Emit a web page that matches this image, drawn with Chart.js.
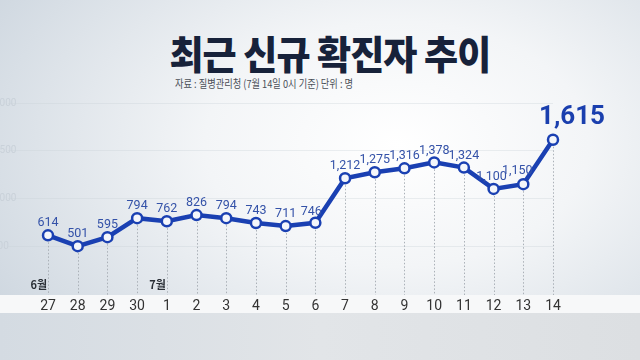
<!DOCTYPE html>
<html><head><meta charset="utf-8">
<script src="https://cdn.jsdelivr.net/npm/chart.js@4/dist/chart.umd.min.js"></script>
<style>
html,body{margin:0;padding:0;width:640px;height:360px;overflow:hidden;}
body{position:relative;background:radial-gradient(ellipse 75% 85% at 62% 40%, #ffffff 0%, #f3f5f7 40%, #dde3e9 75%, #cdd6df 100%);}
#band{position:absolute;left:0;top:295px;width:640px;height:18px;background:#f7f8f9;}
#bottom{position:absolute;left:0;top:313px;width:640px;height:47px;background:linear-gradient(90deg,#d4dbe2,#e2e5e8 50%,#dcdfe2);}
#title{position:absolute;left:0;width:640px;top:28px;text-align:center;font-family:"Noto Sans CJK KR";font-weight:900;font-size:39px;line-height:48px;color:#17223a;letter-spacing:-1px;}
#title span{display:inline-block;transform:translateX(10px) scaleX(0.95);}
#sub{position:absolute;left:175px;top:75px;font-family:"Noto Sans CJK KR";font-size:11px;line-height:16px;color:#4a4f57;transform-origin:0 0;transform:scaleX(0.84);white-space:nowrap;}
#wrap{position:absolute;left:-8px;top:0;width:648px;height:360px;}
</style></head>
<body>
<div id="band"></div><div id="bottom"></div>
<div id="title"><span>최근 신규 확진자 추이</span></div>
<div id="sub">자료 : 질병관리청 (7월 14일 0시 기준) 단위 : 명</div>
<div id="wrap"><canvas id="c" width="648" height="360"></canvas></div>
<script>
const days = ['27','28','29','30','1','2','3','4','5','6','7','8','9','10','11','12','13','14'];
const cases = [614,501,595,794,762,826,794,743,711,746,1212,1275,1316,1378,1324,1100,1150,1615];
const monthLabels = ['6월','','','','7월','','','','','','','','','','','','',''];
const yTicks = [500,1000,1500,2000];

const LINE = '#1a40b2';
const LABEL = '#3452a8';

const overlay = {
  id:'overlay',
  beforeDatasetsDraw(chart){
    const ctx = chart.ctx, meta = chart.getDatasetMeta(0), area = chart.chartArea;
    ctx.save();
    ctx.strokeStyle = '#aab0b7';
    ctx.lineWidth = 1;
    ctx.setLineDash([1.5,2]);
    meta.data.forEach(p=>{
      ctx.beginPath();
      ctx.moveTo(Math.round(p.x)+0.5, p.y);
      ctx.lineTo(Math.round(p.x)+0.5, area.bottom+1);
      ctx.stroke();
    });
    ctx.setLineDash([]);
    ctx.fillStyle = '#2a2f36';
    ctx.font = '600 11px "Noto Sans CJK KR"';
    ctx.textAlign = 'right';
    ctx.textBaseline = 'middle';
    meta.data.forEach((p,i)=>{
      if (monthLabels[i]) ctx.fillText(monthLabels[i], p.x-1, area.bottom-9);
    });
    ctx.restore();
  },
  afterDatasetsDraw(chart){
    const ctx = chart.ctx, meta = chart.getDatasetMeta(0);
    const nudges = chart.options.plugins.overlay.nudges;
    ctx.save();
    ctx.textAlign = 'center';
    ctx.textBaseline = 'middle';
    const last = meta.data.length-1;
    meta.data.forEach((p,i)=>{
      const txt = cases[i].toLocaleString('en-US');
      const n = nudges[i] || [0,0];
      if (i === last){
        ctx.fillStyle = '#1a3fae';
        ctx.font = 'bold 26px Roboto';
        ctx.fillText(txt, p.x+19, p.y-22);
      } else {
        ctx.fillStyle = LABEL;
        ctx.font = '12.5px Roboto';
        ctx.fillText(txt, p.x+n[0], p.y-12+n[1]);
      }
    });
    ctx.restore();
  }
};

new Chart(document.getElementById('c'), {
  type:'line',
  data:{labels:days, datasets:[{
    data:cases,
    borderColor:LINE,
    borderWidth:4.5,
    pointRadius:5,
    pointBorderWidth:2.5,
    pointBackgroundColor:'#f4f6fb',
    pointBorderColor:LINE,
    tension:0,
    clip:false
  }]},
  options:{
    responsive:false,
    animation:false,
    events:[],
    layout:{padding:{top:103,right:87,left:0,bottom:0}},
    plugins:{
      legend:{display:false},
      tooltip:{enabled:false},
      overlay:{nudges:{9:[-4,1],15:[-2,0],16:[-6,-1]}}
    },
    scales:{
      x:{
        grid:{display:false,drawTicks:false},
        border:{display:false},
        ticks:{padding:4,color:'#333',font:{family:'"Liberation Sans Narrow", Roboto',size:14},maxRotation:0,autoSkip:false},
        afterFit(s){ s.height = 66; }
      },
      y:{
        min:0,max:2000,
        afterBuildTicks(s){ s.ticks = yTicks.map(v=>({value:v})); },
        grid:{color:'rgba(200,208,216,0.35)',tickLength:40,tickColor:'rgba(200,208,216,0.35)'},
        border:{display:false},
        ticks:{crossAlign:'far',color:'#c9d1d9',font:{family:'Roboto',size:10},
          callback:v=>v.toLocaleString('en-US')},
        afterFit(s){ s.width = 56; }
      }
    }
  },
  plugins:[overlay]
});
</script>
</body></html>
